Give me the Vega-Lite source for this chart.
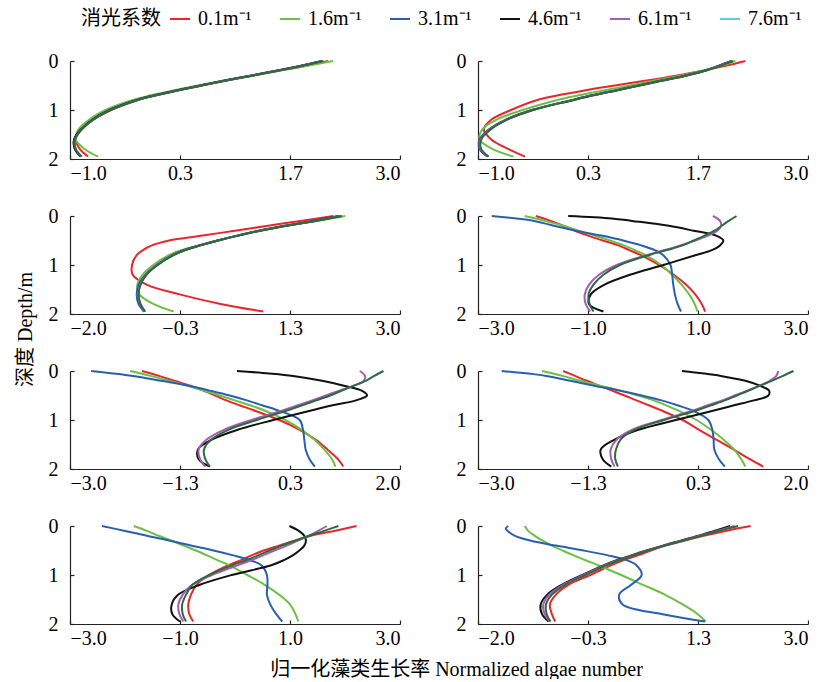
{
"$schema": "https://vega.github.io/schema/vega-lite/v6.json",
"padding": {"left": 15, "top": 8, "right": 0, "bottom": 0},
"bounds": "flush",
"columns": 2,
"spacing": {"row": 57, "column": 78},
"data": {"values": [
{"p":1,"d":0,"A":2.13,"B":2.19,"C":2.05,"D":2.06,"E":2.06,"F":2.07},
{"p":1,"d":0.1,"A":1.85,"B":1.86,"C":1.79,"D":1.79,"E":1.8,"F":1.8},
{"p":1,"d":0.2,"A":1.54,"B":1.52,"C":1.5,"D":1.5,"E":1.51,"F":1.51},
{"p":1,"d":0.3,"A":1.22,"B":1.19,"C":1.19,"D":1.19,"E":1.2,"F":1.2},
{"p":1,"d":0.4,"A":0.9,"B":0.86,"C":0.88,"D":0.88,"E":0.89,"F":0.89},
{"p":1,"d":0.5,"A":0.6,"B":0.55,"C":0.58,"D":0.58,"E":0.59,"F":0.59},
{"p":1,"d":0.6,"A":0.31,"B":0.25,"C":0.29,"D":0.29,"E":0.3,"F":0.3},
{"p":1,"d":0.7,"A":0.05,"B":-0.02,"C":0.03,"D":0.03,"E":0.04,"F":0.04},
{"p":1,"d":0.8,"A":-0.18,"B":-0.25,"C":-0.2,"D":-0.2,"E":-0.19,"F":-0.19},
{"p":1,"d":1.0,"A":-0.5,"B":-0.57,"C":-0.52,"D":-0.52,"E":-0.51,"F":-0.51},
{"p":1,"d":1.2,"A":-0.72,"B":-0.77,"C":-0.73,"D":-0.73,"E":-0.72,"F":-0.72},
{"p":1,"d":1.4,"A":-0.86,"B":-0.9,"C":-0.87,"D":-0.87,"E":-0.86,"F":-0.86},
{"p":1,"d":1.6,"A":-0.93,"B":-0.93,"C":-0.95,"D":-0.95,"E":-0.94,"F":-0.94},
{"p":1,"d":1.8,"A":-0.88,"B":-0.82,"C":-0.94,"D":-0.94,"E":-0.93,"F":-0.93},
{"p":1,"d":1.95,"A":-0.78,"B":-0.66,"C":-0.87,"D":-0.87,"E":-0.86,"F":-0.86},
{"p":2,"d":0,"A":2.24,"B":2.12,"C":2.07,"D":2.08,"E":2.08,"F":2.09},
{"p":2,"d":0.1,"A":2.0,"B":1.94,"C":1.91,"D":1.92,"E":1.92,"F":1.93},
{"p":2,"d":0.2,"A":1.72,"B":1.72,"C":1.74,"D":1.75,"E":1.75,"F":1.76},
{"p":2,"d":0.3,"A":1.4,"B":1.45,"C":1.5,"D":1.51,"E":1.51,"F":1.52},
{"p":2,"d":0.4,"A":1.04,"B":1.14,"C":1.22,"D":1.23,"E":1.23,"F":1.24},
{"p":2,"d":0.5,"A":0.66,"B":0.84,"C":0.94,"D":0.95,"E":0.95,"F":0.96},
{"p":2,"d":0.6,"A":0.29,"B":0.52,"C":0.66,"D":0.67,"E":0.67,"F":0.68},
{"p":2,"d":0.7,"A":-0.03,"B":0.22,"C":0.38,"D":0.39,"E":0.39,"F":0.4},
{"p":2,"d":0.8,"A":-0.29,"B":-0.05,"C":0.13,"D":0.14,"E":0.14,"F":0.15},
{"p":2,"d":1.0,"A":-0.6,"B":-0.46,"C":-0.35,"D":-0.34,"E":-0.34,"F":-0.33},
{"p":2,"d":1.2,"A":-0.84,"B":-0.78,"C":-0.67,"D":-0.66,"E":-0.66,"F":-0.65},
{"p":2,"d":1.4,"A":-0.93,"B":-0.95,"C":-0.87,"D":-0.86,"E":-0.86,"F":-0.85},
{"p":2,"d":1.6,"A":-0.84,"B":-0.98,"C":-0.98,"D":-0.97,"E":-0.97,"F":-0.96},
{"p":2,"d":1.8,"A":-0.63,"B":-0.82,"C":-0.98,"D":-0.97,"E":-0.97,"F":-0.96},
{"p":2,"d":1.95,"A":-0.43,"B":-0.57,"C":-0.89,"D":-0.88,"E":-0.88,"F":-0.87},
{"p":3,"d":0,"A":1.99,"B":2.17,"C":2.06,"D":2.09,"E":2.1,"F":2.12},
{"p":3,"d":0.1,"A":1.49,"B":1.74,"C":1.68,"D":1.7,"E":1.71,"F":1.72},
{"p":3,"d":0.2,"A":1.0,"B":1.28,"C":1.25,"D":1.27,"E":1.27,"F":1.28},
{"p":3,"d":0.3,"A":0.5,"B":0.9,"C":0.86,"D":0.87,"E":0.87,"F":0.88},
{"p":3,"d":0.4,"A":0.01,"B":0.55,"C":0.53,"D":0.54,"E":0.54,"F":0.55},
{"p":3,"d":0.5,"A":-0.5,"B":0.24,"C":0.23,"D":0.24,"E":0.24,"F":0.25},
{"p":3,"d":0.6,"A":-0.76,"B":-0.05,"C":-0.04,"D":-0.03,"E":-0.03,"F":-0.02},
{"p":3,"d":0.7,"A":-0.9,"B":-0.32,"C":-0.28,"D":-0.27,"E":-0.27,"F":-0.26},
{"p":3,"d":0.8,"A":-0.99,"B":-0.5,"C":-0.45,"D":-0.44,"E":-0.44,"F":-0.43},
{"p":3,"d":1.0,"A":-1.06,"B":-0.74,"C":-0.69,"D":-0.68,"E":-0.68,"F":-0.67},
{"p":3,"d":1.2,"A":-1.05,"B":-0.9,"C":-0.86,"D":-0.85,"E":-0.85,"F":-0.84},
{"p":3,"d":1.4,"A":-0.84,"B":-0.98,"C":-0.96,"D":-0.94,"E":-0.94,"F":-0.93},
{"p":3,"d":1.6,"A":-0.34,"B":-0.95,"C":-0.99,"D":-0.97,"E":-0.97,"F":-0.96},
{"p":3,"d":1.8,"A":0.3,"B":-0.73,"C":-0.96,"D":-0.94,"E":-0.94,"F":-0.93},
{"p":3,"d":1.95,"A":0.93,"B":-0.43,"C":-0.88,"D":-0.87,"E":-0.87,"F":-0.86},
{"p":4,"d":0,"A":-1.95,"B":-2.15,"C":-2.75,"D":-1.36,"E":1.27,"F":1.7},
{"p":4,"d":0.05,"D":-0.57},
{"p":4,"d":0.1,"A":-1.68,"B":-1.78,"C":-1.98,"D":-0.2,"E":1.4,"F":1.56},
{"p":4,"d":0.2,"A":-1.45,"B":-1.45,"C":-1.62,"D":0.47,"E":1.42,"F":1.43},
{"p":4,"d":0.3,"A":-1.24,"B":-1.17,"C":-1.22,"D":0.92,"E":1.35,"F":1.3},
{"p":4,"d":0.4,"A":-1.0,"B":-0.88,"C":-0.76,"D":1.33,"E":1.18,"F":1.12},
{"p":4,"d":0.5,"A":-0.73,"B":-0.6,"C":-0.36,"D":1.46,"E":0.95,"F":0.92},
{"p":4,"d":0.6,"A":-0.45,"B":-0.35,"C":-0.03,"D":1.4,"E":0.68,"F":0.72},
{"p":4,"d":0.7,"A":-0.24,"B":-0.14,"C":0.22,"D":1.24,"E":0.38,"F":0.42},
{"p":4,"d":0.8,"A":-0.04,"B":0.05,"C":0.37,"D":0.95,"E":0.06,"F":0.1},
{"p":4,"d":1.0,"A":0.29,"B":0.33,"C":0.5,"D":0.37,"E":-0.48,"F":-0.42},
{"p":4,"d":1.2,"A":0.56,"B":0.53,"C":0.53,"D":-0.24,"E":-0.8,"F":-0.72},
{"p":4,"d":1.4,"A":0.78,"B":0.7,"C":0.55,"D":-0.7,"E":-0.98,"F":-0.9},
{"p":4,"d":1.6,"A":0.95,"B":0.84,"C":0.58,"D":-0.95,"E":-1.06,"F":-0.99},
{"p":4,"d":1.8,"A":1.07,"B":0.94,"C":0.63,"D":-0.98,"E":-1.04,"F":-0.97},
{"p":4,"d":1.95,"A":1.13,"B":0.99,"C":0.69,"D":-0.72,"E":-0.96,"F":-0.9},
{"p":5,"d":0,"A":-1.91,"B":-2.09,"C":-2.68,"D":-0.47,"E":1.39,"F":1.75},
{"p":5,"d":0.05,"D":0.02},
{"p":5,"d":0.1,"A":-1.65,"B":-1.78,"C":-2.05,"D":0.38,"E":1.47,"F":1.61},
{"p":5,"d":0.2,"A":-1.42,"B":-1.5,"C":-1.62,"D":0.82,"E":1.45,"F":1.48},
{"p":5,"d":0.3,"A":-1.18,"B":-1.22,"C":-1.2,"D":1.15,"E":1.3,"F":1.3},
{"p":5,"d":0.4,"A":-0.98,"B":-0.97,"C":-0.88,"D":1.42,"E":1.08,"F":1.12},
{"p":5,"d":0.5,"A":-0.8,"B":-0.73,"C":-0.58,"D":1.5,"E":0.88,"F":0.94},
{"p":5,"d":0.6,"A":-0.63,"B":-0.5,"C":-0.32,"D":1.33,"E":0.67,"F":0.73},
{"p":5,"d":0.7,"A":-0.43,"B":-0.27,"C":-0.09,"D":0.98,"E":0.45,"F":0.52},
{"p":5,"d":0.8,"A":-0.22,"B":-0.06,"C":0.14,"D":0.67,"E":0.23,"F":0.3},
{"p":5,"d":1.0,"A":0.17,"B":0.26,"C":0.48,"D":0.08,"E":-0.25,"F":-0.17},
{"p":5,"d":1.2,"A":0.48,"B":0.51,"C":0.53,"D":-0.46,"E":-0.67,"F":-0.6},
{"p":5,"d":1.4,"A":0.72,"B":0.7,"C":0.55,"D":-0.85,"E":-0.93,"F":-0.86},
{"p":5,"d":1.6,"A":0.9,"B":0.85,"C":0.57,"D":-1.06,"E":-1.05,"F":-0.97},
{"p":5,"d":1.8,"A":1.06,"B":0.97,"C":0.63,"D":-1.05,"E":-1.03,"F":-0.95},
{"p":5,"d":1.95,"A":1.14,"B":1.02,"C":0.71,"D":-0.88,"E":-0.95,"F":-0.88},
{"p":6,"d":0,"A":-1.71,"B":-2.03,"C":-2.64,"D":0.09,"E":1.55,"F":1.78},
{"p":6,"d":0.05,"D":0.42},
{"p":6,"d":0.1,"A":-1.53,"B":-1.72,"C":-1.97,"D":0.68,"E":1.52,"F":1.62},
{"p":6,"d":0.2,"A":-1.35,"B":-1.45,"C":-1.6,"D":1.05,"E":1.42,"F":1.45},
{"p":6,"d":0.3,"A":-1.16,"B":-1.15,"C":-1.24,"D":1.27,"E":1.27,"F":1.27},
{"p":6,"d":0.4,"A":-0.97,"B":-0.85,"C":-0.86,"D":1.41,"E":1.08,"F":1.1},
{"p":6,"d":0.5,"A":-0.78,"B":-0.58,"C":-0.52,"D":1.4,"E":0.89,"F":0.92},
{"p":6,"d":0.6,"A":-0.6,"B":-0.34,"C":-0.22,"D":1.18,"E":0.7,"F":0.74},
{"p":6,"d":0.7,"A":-0.41,"B":-0.15,"C":0.02,"D":0.88,"E":0.48,"F":0.53},
{"p":6,"d":0.8,"A":-0.23,"B":0.02,"C":0.24,"D":0.59,"E":0.27,"F":0.32},
{"p":6,"d":1.0,"A":0.1,"B":0.31,"C":0.49,"D":0.0,"E":-0.22,"F":-0.18},
{"p":6,"d":1.2,"A":0.35,"B":0.53,"C":0.55,"D":-0.57,"E":-0.67,"F":-0.63},
{"p":6,"d":1.4,"A":0.61,"B":0.72,"C":0.57,"D":-0.93,"E":-0.9,"F":-0.84},
{"p":6,"d":1.6,"A":0.87,"B":0.88,"C":0.58,"D":-1.14,"E":-0.99,"F":-0.91},
{"p":6,"d":1.8,"A":1.12,"B":0.99,"C":0.65,"D":-1.11,"E":-0.98,"F":-0.92},
{"p":6,"d":1.95,"A":1.32,"B":1.05,"C":0.74,"D":-0.98,"E":-0.93,"F":-0.88},
{"p":7,"d":0,"A":2.21,"B":-1.84,"C":-2.42,"D":0.99,"E":1.67,"F":1.88},
{"p":7,"d":0.1,"A":1.8,"B":-1.6,"C":-2.0,"D":1.16,"E":1.51,"F":1.62},
{"p":7,"d":0.2,"A":1.38,"B":-1.39,"C":-1.6,"D":1.26,"E":1.34,"F":1.35},
{"p":7,"d":0.3,"A":1.08,"B":-1.15,"C":-1.18,"D":1.29,"E":1.14,"F":1.1},
{"p":7,"d":0.4,"A":0.8,"B":-0.93,"C":-0.8,"D":1.26,"E":0.94,"F":0.85},
{"p":7,"d":0.5,"A":0.52,"B":-0.71,"C":-0.39,"D":1.17,"E":0.72,"F":0.63},
{"p":7,"d":0.6,"A":0.3,"B":-0.51,"C":-0.03,"D":1.05,"E":0.51,"F":0.42},
{"p":7,"d":0.7,"A":0.1,"B":-0.31,"C":0.28,"D":0.88,"E":0.29,"F":0.2},
{"p":7,"d":0.8,"A":-0.12,"B":-0.11,"C":0.48,"D":0.66,"E":0.05,"F":-0.05},
{"p":7,"d":1.0,"A":-0.47,"B":0.22,"C":0.58,"D":-0.06,"E":-0.42,"F":-0.47},
{"p":7,"d":1.2,"A":-0.7,"B":0.54,"C":0.59,"D":-0.64,"E":-0.78,"F":-0.77},
{"p":7,"d":1.4,"A":-0.8,"B":0.8,"C":0.58,"D":-1.03,"E":-0.95,"F":-0.89},
{"p":7,"d":1.6,"A":-0.85,"B":1.0,"C":0.64,"D":-1.15,"E":-1.03,"F":-0.96},
{"p":7,"d":1.8,"A":-0.83,"B":1.1,"C":0.75,"D":-1.14,"E":-1.01,"F":-0.95},
{"p":7,"d":1.95,"A":-0.76,"B":1.15,"C":0.86,"D":-1.0,"E":-0.94,"F":-0.89},
{"p":8,"d":0,"A":2.13,"B":-1.29,"C":-1.54,"D":1.82,"E":1.89,"F":1.94},
{"p":8,"d":0.05,"C":-1.58},
{"p":8,"d":0.1,"A":1.75,"B":-1.24,"C":-1.55,"D":1.58,"E":1.62,"F":1.65},
{"p":8,"d":0.2,"A":1.42,"B":-1.14,"C":-1.44,"D":1.34,"E":1.36,"F":1.38},
{"p":8,"d":0.3,"A":1.12,"B":-1.02,"C":-1.2,"D":1.07,"E":1.09,"F":1.1},
{"p":8,"d":0.4,"A":0.84,"B":-0.88,"C":-0.82,"D":0.8,"E":0.82,"F":0.83},
{"p":8,"d":0.5,"A":0.62,"B":-0.72,"C":-0.4,"D":0.55,"E":0.57,"F":0.58},
{"p":8,"d":0.6,"A":0.42,"B":-0.55,"C":-0.03,"D":0.32,"E":0.34,"F":0.36},
{"p":8,"d":0.7,"A":0.2,"B":-0.37,"C":0.26,"D":0.1,"E":0.12,"F":0.14},
{"p":8,"d":0.8,"A":0.02,"B":-0.18,"C":0.4,"D":-0.09,"E":-0.07,"F":-0.05},
{"p":8,"d":1.0,"A":-0.3,"B":0.17,"C":0.48,"D":-0.42,"E":-0.4,"F":-0.37},
{"p":8,"d":1.2,"A":-0.63,"B":0.5,"C":0.32,"D":-0.73,"E":-0.71,"F":-0.68},
{"p":8,"d":1.4,"A":-0.82,"B":0.83,"C":0.14,"D":-0.95,"E":-0.92,"F":-0.88},
{"p":8,"d":1.6,"A":-0.91,"B":1.1,"C":0.19,"D":-1.05,"E":-1.01,"F":-0.97},
{"p":8,"d":1.8,"A":-0.88,"B":1.33,"C":0.8,"D":-1.03,"E":-0.99,"F":-0.96},
{"p":8,"d":1.95,"A":-0.83,"B":1.45,"C":1.44,"D":-0.93,"E":-0.91,"F":-0.9}
]},
"transform": [
{"fold": ["A","B","C","D","E","F"], "as": ["s","v"]},
{"filter": "isValid(datum.v)"}
],
"resolve": {"scale": {"x": "independent", "y": "independent", "color": "shared"}, "legend": {"color": "shared"}},
"concat": [
{"width": 330, "height": 98, "transform": [{"filter": "datum.p == 1"}],
 "encoding": {
  "x": {"field": "v", "type": "quantitative", "scale": {"domain": [-1, 3], "nice": false, "zero": false}, "axis": {"values": [-1, 0.33333, 1.66667, 3], "format": ".1f", "title": null}},
  "y": {"field": "d", "type": "quantitative", "scale": {"domain": [0, 2], "reverse": true, "nice": false}, "axis": {"values": [0, 1, 2], "format": ".0f", "title": null}},
  "order": {"field": "d", "type": "quantitative"}},
 "layer": [
  {"transform": [{"filter": "datum.s != 'F'"}], "mark": {"type": "line"},
   "encoding": {"color": {"field": "s", "type": "nominal", "scale": {"domain": ["A","B","C","D","E","F"], "range": ["#e8262b","#6dbf45","#2a5fb0","#111111","#a45db5","#5ccde0"]},
    "legend": {"orient": "none", "legendX": 11, "legendY": -53, "direction": "horizontal", "title": "消光系数", "titleOrient": "left", "titleFont": "'Noto Sans CJK SC'", "titleFontSize": 20, "titleFontWeight": "normal", "titleColor": "#000", "titlePadding": 8, "labelFont": "'Liberation Serif'", "labelFontSize": 20, "labelColor": "#000", "symbolType": "stroke", "symbolSize": 400, "symbolStrokeWidth": 2, "labelOffset": 7, "columnPadding": 24,
     "labelExpr": "datum.label == 'A' ? '0.1m⁻¹' : datum.label == 'B' ? '1.6m⁻¹' : datum.label == 'C' ? '3.1m⁻¹' : datum.label == 'D' ? '4.6m⁻¹' : datum.label == 'E' ? '6.1m⁻¹' : '7.6m⁻¹'"}}}},
  {"transform": [{"filter": "datum.s == 'F'"}], "mark": {"type": "line", "color": "#2d6a3e"}}
 ]},
{"width": 330, "height": 98, "transform": [{"filter": "datum.p == 2"}],
 "encoding": {
  "x": {"field": "v", "type": "quantitative", "scale": {"domain": [-1, 3], "nice": false, "zero": false}, "axis": {"values": [-1, 0.33333, 1.66667, 3], "format": ".1f", "title": null}},
  "y": {"field": "d", "type": "quantitative", "scale": {"domain": [0, 2], "reverse": true, "nice": false}, "axis": {"values": [0, 1, 2], "format": ".0f", "title": null}},
  "order": {"field": "d", "type": "quantitative"}},
 "layer": [
  {"transform": [{"filter": "datum.s != 'F'"}], "mark": {"type": "line"}, "encoding": {"color": {"field": "s", "type": "nominal"}}},
  {"transform": [{"filter": "datum.s == 'F'"}], "mark": {"type": "line", "color": "#2d6a3e"}}
 ]},
{"width": 330, "height": 98, "transform": [{"filter": "datum.p == 3"}],
 "encoding": {
  "x": {"field": "v", "type": "quantitative", "scale": {"domain": [-2, 3], "nice": false, "zero": false}, "axis": {"values": [-2, -0.33333, 1.33333, 3], "format": ".1f", "title": null}},
  "y": {"field": "d", "type": "quantitative", "scale": {"domain": [0, 2], "reverse": true, "nice": false}, "axis": {"values": [0, 1, 2], "format": ".0f", "title": "深度 Depth/m", "titleX": -45, "titleY": 113, "titleAlign": "center", "titleBaseline": "middle", "titleAngle": 270}},
  "order": {"field": "d", "type": "quantitative"}},
 "layer": [
  {"transform": [{"filter": "datum.s != 'F'"}], "mark": {"type": "line"}, "encoding": {"color": {"field": "s", "type": "nominal"}}},
  {"transform": [{"filter": "datum.s == 'F'"}], "mark": {"type": "line", "color": "#2d6a3e"}}
 ]},
{"width": 330, "height": 98, "transform": [{"filter": "datum.p == 4"}],
 "encoding": {
  "x": {"field": "v", "type": "quantitative", "scale": {"domain": [-3, 3], "nice": false, "zero": false}, "axis": {"values": [-3, -1, 1, 3], "format": ".1f", "title": null}},
  "y": {"field": "d", "type": "quantitative", "scale": {"domain": [0, 2], "reverse": true, "nice": false}, "axis": {"values": [0, 1, 2], "format": ".0f", "title": null}},
  "order": {"field": "d", "type": "quantitative"}},
 "layer": [
  {"transform": [{"filter": "datum.s != 'F'"}], "mark": {"type": "line"}, "encoding": {"color": {"field": "s", "type": "nominal"}}},
  {"transform": [{"filter": "datum.s == 'F'"}], "mark": {"type": "line", "color": "#2d6a3e"}}
 ]},
{"width": 330, "height": 98, "transform": [{"filter": "datum.p == 5"}],
 "encoding": {
  "x": {"field": "v", "type": "quantitative", "scale": {"domain": [-3, 2], "nice": false, "zero": false}, "axis": {"values": [-3, -1.33333, 0.33333, 2], "format": ".1f", "title": null}},
  "y": {"field": "d", "type": "quantitative", "scale": {"domain": [0, 2], "reverse": true, "nice": false}, "axis": {"values": [0, 1, 2], "format": ".0f", "title": null}},
  "order": {"field": "d", "type": "quantitative"}},
 "layer": [
  {"transform": [{"filter": "datum.s != 'F'"}], "mark": {"type": "line"}, "encoding": {"color": {"field": "s", "type": "nominal"}}},
  {"transform": [{"filter": "datum.s == 'F'"}], "mark": {"type": "line", "color": "#2d6a3e"}}
 ]},
{"width": 330, "height": 98, "transform": [{"filter": "datum.p == 6"}],
 "encoding": {
  "x": {"field": "v", "type": "quantitative", "scale": {"domain": [-3, 2], "nice": false, "zero": false}, "axis": {"values": [-3, -1.33333, 0.33333, 2], "format": ".1f", "title": null}},
  "y": {"field": "d", "type": "quantitative", "scale": {"domain": [0, 2], "reverse": true, "nice": false}, "axis": {"values": [0, 1, 2], "format": ".0f", "title": null}},
  "order": {"field": "d", "type": "quantitative"}},
 "layer": [
  {"transform": [{"filter": "datum.s != 'F'"}], "mark": {"type": "line"}, "encoding": {"color": {"field": "s", "type": "nominal"}}},
  {"transform": [{"filter": "datum.s == 'F'"}], "mark": {"type": "line", "color": "#2d6a3e"}}
 ]},
{"width": 330, "height": 98, "transform": [{"filter": "datum.p == 7"}],
 "encoding": {
  "x": {"field": "v", "type": "quantitative", "scale": {"domain": [-3, 3], "nice": false, "zero": false}, "axis": {"values": [-3, -1, 1, 3], "format": ".1f", "title": "归一化藻类生长率 Normalized algae number", "titleX": 386, "titleY": 45, "titleAlign": "center", "titleBaseline": "middle"}},
  "y": {"field": "d", "type": "quantitative", "scale": {"domain": [0, 2], "reverse": true, "nice": false}, "axis": {"values": [0, 1, 2], "format": ".0f", "title": null}},
  "order": {"field": "d", "type": "quantitative"}},
 "layer": [
  {"transform": [{"filter": "datum.s != 'F'"}], "mark": {"type": "line"}, "encoding": {"color": {"field": "s", "type": "nominal"}}},
  {"transform": [{"filter": "datum.s == 'F'"}], "mark": {"type": "line", "color": "#2d6a3e"}}
 ]},
{"width": 330, "height": 98, "transform": [{"filter": "datum.p == 8"}],
 "encoding": {
  "x": {"field": "v", "type": "quantitative", "scale": {"domain": [-2, 3], "nice": false, "zero": false}, "axis": {"values": [-2, -0.33333, 1.33333, 3], "format": ".1f", "title": null}},
  "y": {"field": "d", "type": "quantitative", "scale": {"domain": [0, 2], "reverse": true, "nice": false}, "axis": {"values": [0, 1, 2], "format": ".0f", "title": null}},
  "order": {"field": "d", "type": "quantitative"}},
 "layer": [
  {"transform": [{"filter": "datum.s != 'F'"}], "mark": {"type": "line"}, "encoding": {"color": {"field": "s", "type": "nominal"}}},
  {"transform": [{"filter": "datum.s == 'F'"}], "mark": {"type": "line", "color": "#2d6a3e"}}
 ]}
],
"config": {
 "view": {"stroke": null},
 "font": "'Liberation Serif'",
 "line": {"strokeWidth": 2, "interpolate": "catmull-rom"},
 "axis": {"grid": false, "domainColor": "#222", "tickColor": "#222", "domainWidth": 1.2, "tickWidth": 1.2, "tickSize": -4, "labelOverlap": false, "labelFont": "'Liberation Serif'", "labelFontSize": 20, "labelColor": "#000", "titleFont": "'Liberation Serif', 'Noto Sans CJK SC'", "titleFontSize": 20, "titleFontWeight": "normal", "titleColor": "#000"},
 "axisX": {"labelPadding": 8},
 "axisY": {"labelPadding": 16}
}
}
